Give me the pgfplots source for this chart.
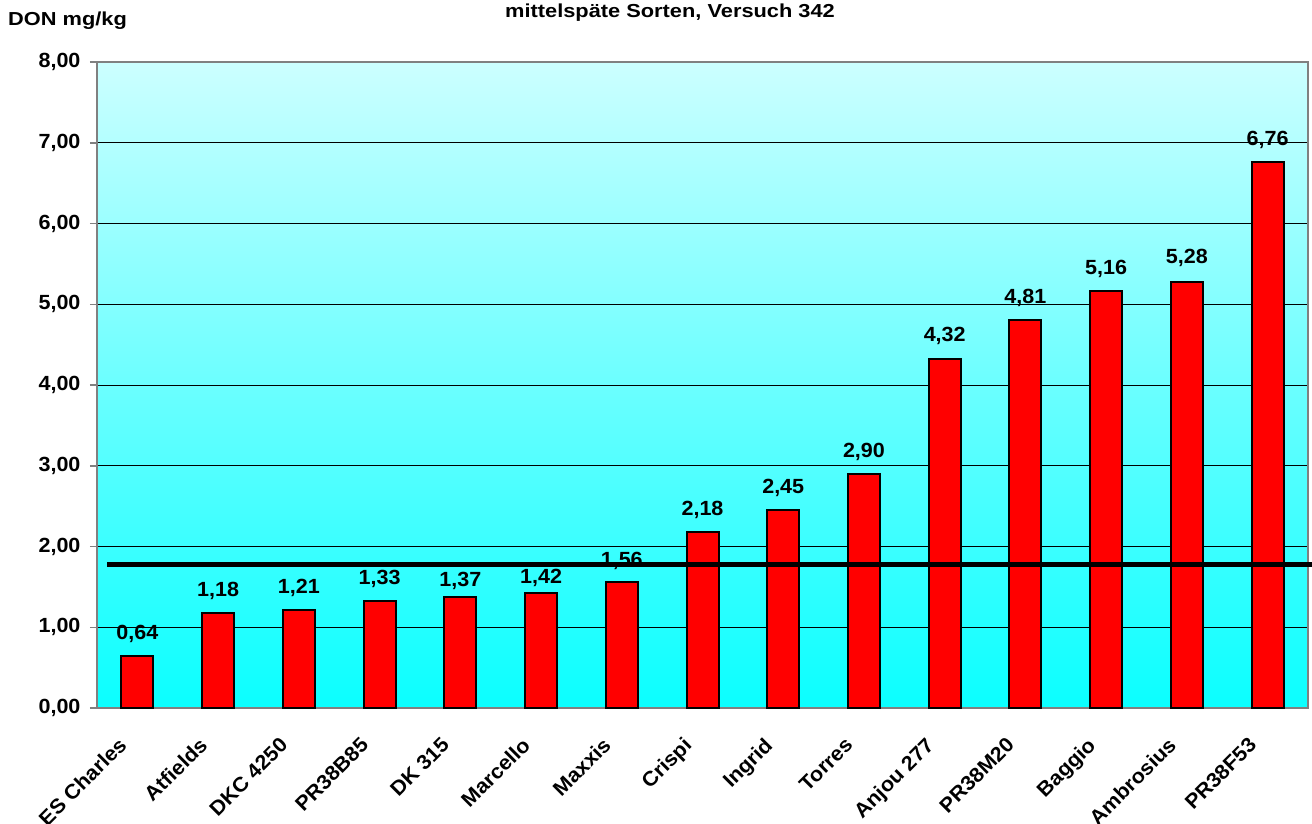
\documentclass[border=0pt]{standalone}
\usepackage{fontspec}
\setmainfont{Liberation Sans}
\newfontfamily\tickfont{Liberation Sans}[FakeStretch=1.05]
\newfontfamily\titfont{Liberation Sans}[FakeStretch=1.16]
\usepackage{pgfplots}
\usepackage{pgfplotstable}
\pgfplotsset{compat=1.18}
\definecolor{axgray}{RGB}{128,128,128}
\definecolor{topcyan}{RGB}{204,255,255}
\definecolor{botcyan}{RGB}{10,255,255}
\definecolor{barred}{RGB}{255,0,0}
\newcommand{\lblfont}{\tickfont\fontsize{20.5}{24}\selectfont\bfseries}
\newcommand{\titlefont}{\titfont\fontsize{18.8}{22}\selectfont\bfseries}
\pgfplotstableread{
x y s
0 0.64 16.7
1 1.18 16.7
2 1.21 17.0
3 1.33 16.0
4 1.37 10.7
5 1.42 9.4
6 1.56 16.0
7 2.18 16.5
8 2.45 16.5
9 2.90 16.0
10 4.32 17.6
11 4.81 16.3
12 5.16 16.7
13 5.28 17.7
14 6.76 16.5
}\datatable
\begin{document}
\begin{tikzpicture}
\useasboundingbox (-97pt,-115pt) rectangle (1215pt,708pt);
\begin{axis}[
  at={(0,0)}, anchor=south west,
  scale only axis, width=1211pt, height=646pt,
  xmin=-0.5, xmax=14.5, ymin=0, ymax=8,
  clip=false,
  axis background/.style={shade, top color=topcyan, bottom color=botcyan},
  axis line style={draw=axgray, line width=2pt},
  xtick={0,...,14},
  xticklabels={ES Charles, Atfields, DKC 4250, PR38B85, DK 315, Marcello, Maxxis, Crispi, Ingrid, Torres, Anjou 277, PR38M20, Baggio, Ambrosius, PR38F53},
  x tick label style={rotate=45, anchor=north east, font=\lblfont, inner sep=2pt, xshift=-27pt, yshift=1.4pt},
  major x tick style={draw=none},
  extra x ticks={-0.5,0.5,...,14.5},
  extra x tick labels={},
  extra x tick style={grid=none, major tick length=7pt, tick style={draw=axgray, line width=1.5pt}},
  tick align=outside,
  ytick={0,...,8},
  major tick length=7pt,
  y tick style={draw=axgray, line width=1.5pt},
  y tick label style={font=\lblfont, xshift=-6pt, /pgf/number format/.cd, fixed, fixed zerofill, precision=2, use comma, assume math mode=true},
  ymajorgrids,
  major grid style={black, line width=1pt},
  xtick pos=bottom, ytick pos=left,
]
\addplot[ybar, bar width=32pt, fill=barred, draw=black, line width=2pt,
  visualization depends on={\thisrow{s} \as \lshift},
  nodes near coords={\pgfmathprintnumber[fixed, fixed zerofill, precision=2, use comma, assume math mode=true]{\pgfplotspointmeta}},
  nodes near coords style={font=\lblfont, anchor=base, yshift=\lshift pt, text=black}]
table[x=x, y=y] {\datatable};
\addplot[black, line width=5pt, no marks] coordinates {(-0.376,1.78) (14.6,1.78)};
\end{axis}
\node[anchor=base, font=\titlefont] at (573pt,690pt) {mittelspäte Sorten, Versuch 342};
\node[anchor=base west, inner sep=0pt, font=\titlefont] at (-89pt,682pt) {DON mg/kg};
\end{tikzpicture}
\end{document}
